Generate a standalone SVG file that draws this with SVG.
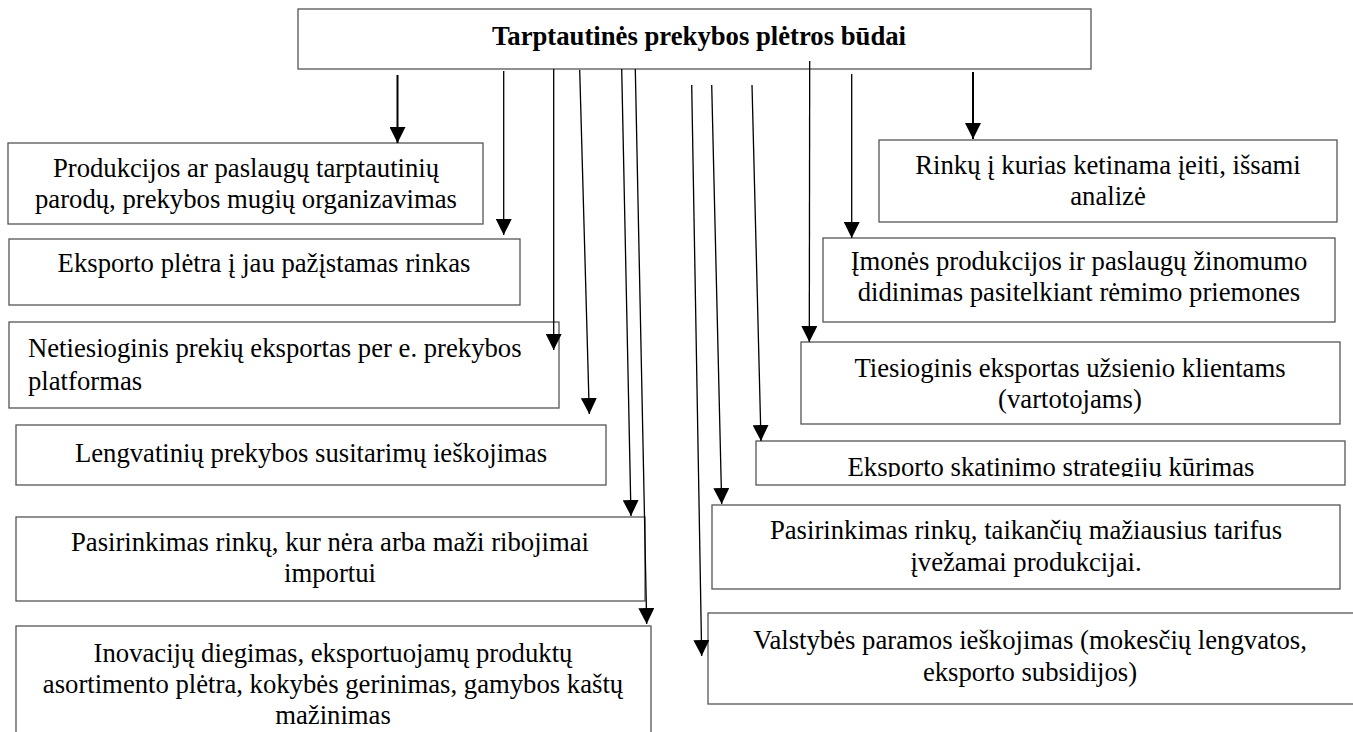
<svg xmlns="http://www.w3.org/2000/svg" width="1353" height="732" viewBox="0 0 1353 732">
<style>
.box{fill:#fff;stroke:#555;stroke-width:1.3}
.t{font-family:"Liberation Serif","Times New Roman",serif;font-size:26.7px;fill:#000;text-anchor:middle}
.tl{text-anchor:start}
.title{font-weight:bold}
.c{stroke:#000;stroke-width:1.3;fill:none;marker-end:url(#ah)}
.thick{stroke-width:2}
</style>
<defs>
<marker id="ah" markerUnits="userSpaceOnUse" markerWidth="16" markerHeight="16" viewBox="0 0 15 15" refX="15" refY="7.5" orient="auto">
<path d="M0,0 L15,7.5 L0,15 z" fill="#000"/>
</marker>
<clipPath id="clipR4"><rect x="756" y="441" width="590" height="36"/></clipPath>
</defs>
<rect width="1353" height="732" fill="#fff"/>
<g id="top">
<rect class="box" x="298" y="9" width="793" height="60"/>
<text class="t title" x="699" y="45">Tarptautinės prekybos plėtros būdai</text>
</g>
<g id="B1">
<rect class="box" x="8" y="143" width="475" height="81"/>
<text class="t" x="246" y="177">Produkcijos ar paslaugų tarptautinių</text>
<text class="t" x="246" y="208">parodų, prekybos mugių organizavimas</text>
</g>
<g id="B2">
<rect class="box" x="9" y="239" width="511" height="66"/>
<text class="t" x="264" y="272">Eksporto plėtra į jau pažįstamas rinkas</text>
</g>
<g id="B3">
<rect class="box" x="9" y="322" width="550" height="86"/>
<text class="t tl" x="28" y="357">Netiesioginis prekių eksportas per e. prekybos</text>
<text class="t tl" x="28" y="390">platformas</text>
</g>
<g id="B4">
<rect class="box" x="16" y="425" width="590" height="60"/>
<text class="t" x="311" y="462">Lengvatinių prekybos susitarimų ieškojimas</text>
</g>
<g id="B5">
<rect class="box" x="16" y="517" width="629" height="84"/>
<text class="t" x="330" y="551">Pasirinkimas rinkų, kur nėra arba maži ribojimai</text>
<text class="t" x="330" y="582">importui</text>
</g>
<g id="B6">
<rect class="box" x="16" y="626" width="635" height="120"/>
<text class="t" x="333" y="662">Inovacijų diegimas, eksportuojamų produktų</text>
<text class="t" x="333" y="693">asortimento plėtra, kokybės gerinimas, gamybos kaštų</text>
<text class="t" x="333" y="724">mažinimas</text>
</g>
<g id="R1">
<rect class="box" x="879" y="140" width="458" height="82"/>
<text class="t" x="1108" y="174">Rinkų į kurias ketinama įeiti, išsami</text>
<text class="t" x="1108" y="205">analizė</text>
</g>
<g id="R2">
<rect class="box" x="823" y="238" width="512" height="84"/>
<text class="t" x="1079" y="270">Įmonės produkcijos ir paslaugų žinomumo</text>
<text class="t" x="1079" y="301">didinimas pasitelkiant rėmimo priemones</text>
</g>
<g id="R3">
<rect class="box" x="801" y="342" width="539" height="82"/>
<text class="t" x="1070" y="377">Tiesioginis eksportas užsienio klientams</text>
<text class="t" x="1070" y="408">(vartotojams)</text>
</g>
<g id="R4">
<rect class="box" x="756" y="441" width="589" height="44"/>
<text class="t" x="1051" y="476" clip-path="url(#clipR4)">Eksporto skatinimo strategijų kūrimas</text>
</g>
<g id="R5">
<rect class="box" x="712" y="505" width="628" height="84"/>
<text class="t" x="1026" y="539">Pasirinkimas rinkų, taikančių mažiausius tarifus</text>
<text class="t" x="1026" y="571">įvežamai produkcijai.</text>
</g>
<g id="R6">
<rect class="box" x="708" y="613" width="660" height="91"/>
<text class="t" x="1030" y="649">Valstybės paramos ieškojimas (mokesčių lengvatos,</text>
<text class="t" x="1030" y="681">eksporto subsidijos)</text>
</g>
<g id="connectors">
<line class="c thick" x1="397.5" y1="75" x2="397.5" y2="143"/>
<line class="c" x1="503.7" y1="71" x2="503.7" y2="235"/>
<line class="c" x1="553.7" y1="69" x2="553.7" y2="350"/>
<line class="c" x1="579.7" y1="70" x2="589.3" y2="414"/>
<line class="c" x1="621.7" y1="69" x2="631" y2="516"/>
<line class="c" x1="635.3" y1="69" x2="646.7" y2="624"/>
<line class="c" x1="691.7" y1="85" x2="701.7" y2="656"/>
<line class="c" x1="711.7" y1="85" x2="721.7" y2="504"/>
<line class="c" x1="752" y1="85" x2="761" y2="441"/>
<line class="c" x1="809.7" y1="61" x2="809.3" y2="342"/>
<line class="c" x1="851.7" y1="74" x2="851.7" y2="238"/>
<line class="c thick" x1="973" y1="72" x2="973" y2="139"/>
</g>
</svg>
